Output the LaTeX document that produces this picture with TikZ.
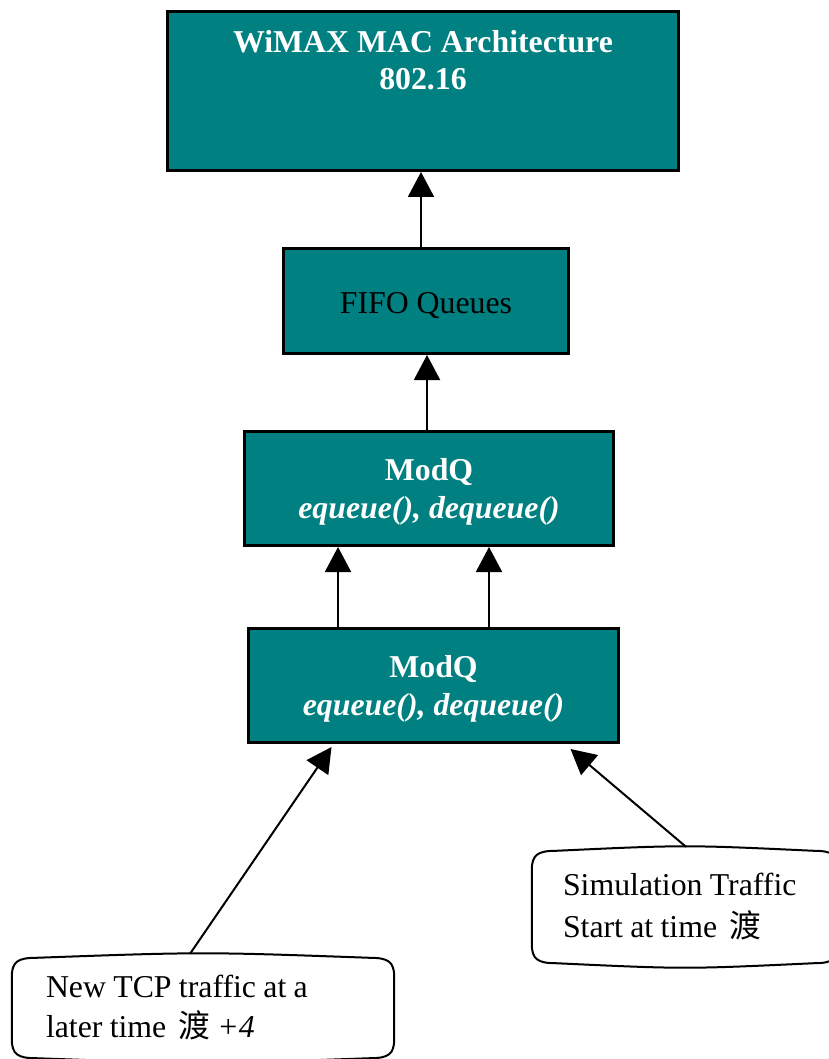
\documentclass[tikz,border=0pt]{standalone}
\usepackage{fontspec}
\setmainfont{Liberation Serif}
\newfontfamily\cjk{Noto Sans CJK SC}
\usetikzlibrary{arrows.meta,calc}
\definecolor{boxteal}{HTML}{008080}

% rounded box whose top and bottom edges bow slightly outwards
\newcommand\scrollbox[1]{%
  \draw[callline]
    ($(#1.north west)+(0,22)$)
      .. controls ($(#1.north west)+(0,7)$) and ($(#1.north west)+(6,3)$) .. ($(#1.north west)+(24,3)$)
      .. controls ($(#1.north)+(0,-3)$) .. ($(#1.north east)+(-24,3)$)
      .. controls ($(#1.north east)+(-6,3)$) and ($(#1.north east)+(0,7)$) .. ($(#1.north east)+(0,22)$)
    -- ($(#1.south east)+(0,-22)$)
      .. controls ($(#1.south east)+(0,-7)$) and ($(#1.south east)+(-6,-3)$) .. ($(#1.south east)+(-24,-3)$)
      .. controls ($(#1.south)+(0,3)$) .. ($(#1.south west)+(24,-3)$)
      .. controls ($(#1.south west)+(6,-3)$) and ($(#1.south west)+(0,-7)$) .. ($(#1.south west)+(0,-22)$)
    -- cycle;}

\begin{document}
\begin{tikzpicture}[x=1pt,y=-1pt,
  tealbox/.style={draw=black,line width=3pt,fill=boxteal,text=white,
    align=center,inner sep=0pt,font=\fontsize{31.8}{38}\selectfont},
  callout/.style={inner ysep=0pt,align=left,
    font=\fontsize{31.8}{41}\selectfont},
  callline/.style={draw=black,line width=2pt,line join=round},
  arr/.style={line width=2pt,-{Triangle[width=26pt,length=25pt]}}]
\useasboundingbox (0,0) rectangle (828,1059);

% main stack of boxes
\node[tealbox,minimum width=511pt,minimum height=159pt] (top) at (423,91) {};
\node[text=white,align=center,font=\fontsize{31.8}{37}\selectfont\bfseries]
  (toptext) at ($(top.north)+(0,50)$) {WiMAX MAC Architecture\\802.16};
\node[tealbox,text=black,minimum width=285pt,minimum height=105pt] (fifo) at (426,301)
  {\rule{0pt}{31pt}FIFO Queues};
\node[tealbox,minimum width=369pt,minimum height=114pt] (modqa) at (429,488.5)
  {\rule{0pt}{28pt}\bfseries ModQ\\\bfseries\itshape equeue(), dequeue()};
\node[tealbox,minimum width=370pt,minimum height=114pt] (modqb) at (433.5,685.5)
  {\rule{0pt}{28pt}\bfseries ModQ\\\bfseries\itshape equeue(), dequeue()};

% traffic sources
\node[callout,inner xsep=31pt,text width=244pt,minimum height=118pt] (sim) at (685,907)
  {\spaceskip=0.23em\relax Simulation Traffic\\[1pt]Start at time\hspace{12pt}{\cjk 渡}};
\node[callout,inner xsep=34pt,text width=314pt,minimum height=106pt] (tcp) at (203,1008)
  {\spaceskip=0.23em\relax New TCP traffic at a\\[-1pt]later time\hspace{12pt}{\cjk 渡}\ \textit{+4}};
\scrollbox{sim}
\scrollbox{tcp}

% data flow upwards
\draw[arr] (fifo.north -| 421,0) -- (top.south -| 421,0);
\draw[arr] (modqa.north -| 427,0) -- (fifo.south -| 427,0);
\draw[arr] (modqb.north -| 338,0) -- (modqa.south -| 338,0);
\draw[arr] (modqb.north -| 489,0) -- (modqa.south -| 489,0);
\draw[arr] ($(tcp.north)+(-13,-1)$) -- ($(modqb.south)+(-102,3)$);
\draw[arr] ($(sim.north)+(1,-1)$) -- ($(modqb.south)+(137,5)$);
\end{tikzpicture}
\end{document}
